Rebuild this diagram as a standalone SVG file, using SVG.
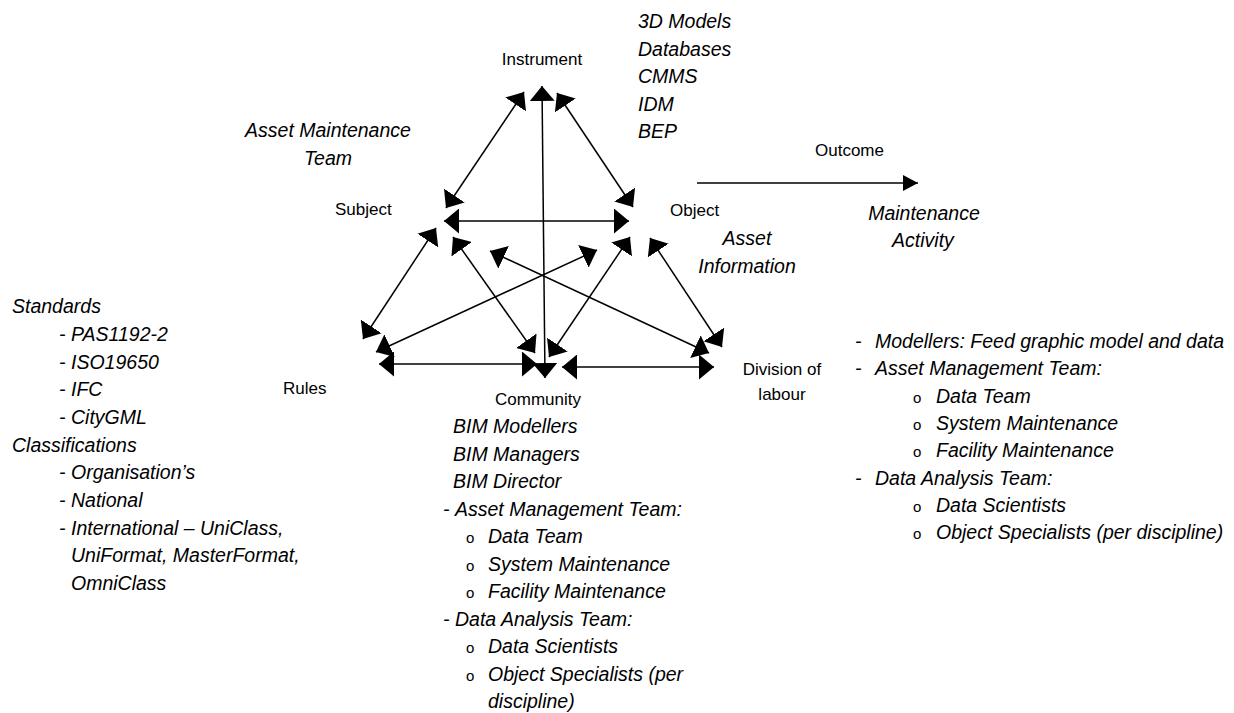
<svg xmlns="http://www.w3.org/2000/svg" width="1234" height="713" viewBox="0 0 1234 713">
<style>
.lbl{font-family:"Liberation Sans",Arial,sans-serif;font-size:17px;fill:#000}
.it{font-family:"Liberation Sans",Arial,sans-serif;font-size:19.5px;font-style:italic;fill:#000}
.bul{font-family:"Liberation Sans",Arial,sans-serif;font-size:15px;fill:#000}
.c{text-anchor:middle}
.ln{stroke:#000;stroke-width:1.5;fill:none;marker-start:url(#ah);marker-end:url(#ah)}
</style>
<defs>
<marker id="ah" viewBox="0 0 15 25" refX="15" refY="12.5" markerWidth="15" markerHeight="25" markerUnits="userSpaceOnUse" orient="auto-start-reverse"><path d="M0,0 L15,12.5 L0,25 Z" fill="#000"/></marker>
<marker id="ah2" viewBox="0 0 15 16" refX="15" refY="8" markerWidth="15" markerHeight="16" markerUnits="userSpaceOnUse" orient="auto"><path d="M0,0 L15,8 L0,16 Z" fill="#000"/></marker>
</defs>
<g id="connectors">
<line class="ln" x1="524" y1="92" x2="446" y2="208"/>
<line class="ln" x1="557" y1="93" x2="633" y2="207"/>
<line class="ln" x1="542" y1="86" x2="545" y2="378"/>
<line class="ln" x1="444" y1="221" x2="629" y2="221"/>
<line class="ln" x1="436" y1="228" x2="363" y2="339"/>
<line class="ln" x1="453" y1="237" x2="535" y2="353"/>
<line class="ln" x1="630" y1="237" x2="549" y2="357"/>
<line class="ln" x1="650" y1="238" x2="722" y2="347"/>
<line class="ln" x1="376" y1="352" x2="597" y2="250"/>
<line class="ln" x1="490" y1="251" x2="709" y2="353"/>
<line class="ln" x1="379" y1="364" x2="537" y2="364"/>
<line class="ln" x1="562" y1="367" x2="714" y2="367"/>
<line x1="697" y1="183" x2="918" y2="183" stroke="#000" stroke-width="1.5" marker-end="url(#ah2)"/>
</g>
<g id="instrument">
<text class="lbl c" x="542" y="65">Instrument</text>
<text class="it" x="638" y="28">3D Models</text>
<text class="it" x="638" y="55.5">Databases</text>
<text class="it" x="638" y="83">CMMS</text>
<text class="it" x="638" y="110.5">IDM</text>
<text class="it" x="638" y="138">BEP</text>
</g>
<g id="subject">
<text class="lbl" x="335" y="215">Subject</text>
<text class="it c" x="328" y="137">Asset Maintenance</text>
<text class="it c" x="328" y="165">Team</text>
</g>
<g id="object">
<text class="lbl" x="670" y="216">Object</text>
<text class="it c" x="747" y="245">Asset</text>
<text class="it c" x="747" y="273">Information</text>
</g>
<g id="outcome">
<text class="lbl" x="815" y="156">Outcome</text>
<text class="it c" x="924" y="220">Maintenance</text>
<text class="it c" x="923" y="247">Activity</text>
</g>
<g id="rules">
<text class="lbl" x="283" y="394">Rules</text>
<text class="it" x="12" y="313">Standards</text>
<text class="it" x="59" y="341">-</text><text class="it" x="71" y="341">PAS1192-2</text>
<text class="it" x="59" y="368.5">-</text><text class="it" x="71" y="368.5">ISO19650</text>
<text class="it" x="59" y="396">-</text><text class="it" x="71" y="396">IFC</text>
<text class="it" x="59" y="424">-</text><text class="it" x="71" y="424">CityGML</text>
<text class="it" x="12" y="451.5">Classifications</text>
<text class="it" x="59" y="479">-</text><text class="it" x="71" y="479">Organisation’s</text>
<text class="it" x="59" y="507">-</text><text class="it" x="71" y="507">National</text>
<text class="it" x="59" y="534.5">-</text><text class="it" x="71" y="534.5">International – UniClass,</text>
<text class="it" x="71" y="562">UniFormat, MasterFormat,</text>
<text class="it" x="71" y="590">OmniClass</text>
</g>
<g id="community">
<text class="lbl" x="495" y="405">Community</text>
<text class="it" x="453" y="433">BIM Modellers</text>
<text class="it" x="453" y="460.5">BIM Managers</text>
<text class="it" x="453" y="488">BIM Director</text>
<text class="it" x="443" y="515.5">-</text><text class="it" x="455" y="515.5">Asset Management Team:</text>
<text class="bul" x="466" y="543">o</text><text class="it" x="488" y="543">Data Team</text>
<text class="bul" x="466" y="570.5">o</text><text class="it" x="488" y="570.5">System Maintenance</text>
<text class="bul" x="466" y="598">o</text><text class="it" x="488" y="598">Facility Maintenance</text>
<text class="it" x="443" y="625.5">-</text><text class="it" x="455" y="625.5">Data Analysis Team:</text>
<text class="bul" x="466" y="653">o</text><text class="it" x="488" y="653">Data Scientists</text>
<text class="bul" x="466" y="680.5">o</text><text class="it" x="488" y="680.5">Object Specialists (per</text>
<text class="it" x="488" y="708">discipline)</text>
</g>
<g id="division">
<text class="lbl c" x="782" y="375">Division of</text>
<text class="lbl c" x="782" y="400">labour</text>
<text class="it" x="855" y="348">-</text><text class="it" x="875" y="348">Modellers: Feed graphic model and data</text>
<text class="it" x="855" y="375">-</text><text class="it" x="875" y="375">Asset Management Team:</text>
<text class="bul" x="913" y="402.5">o</text><text class="it" x="936" y="402.5">Data Team</text>
<text class="bul" x="913" y="430">o</text><text class="it" x="936" y="430">System Maintenance</text>
<text class="bul" x="913" y="457">o</text><text class="it" x="936" y="457">Facility Maintenance</text>
<text class="it" x="855" y="484.5">-</text><text class="it" x="875" y="484.5">Data Analysis Team:</text>
<text class="bul" x="913" y="512">o</text><text class="it" x="936" y="512">Data Scientists</text>
<text class="bul" x="913" y="539">o</text><text class="it" x="936" y="539">Object Specialists (per discipline)</text>
</g>
</svg>
